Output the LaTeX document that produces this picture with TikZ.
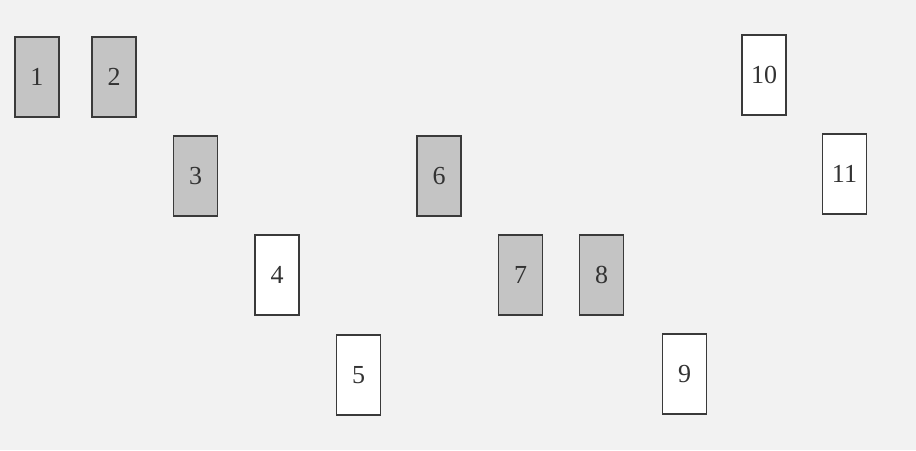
\documentclass[tikz,border=0pt]{standalone}
\usepackage{fontspec}
\setmainfont{Liberation Serif}
\definecolor{bg}{HTML}{F2F2F2}
\definecolor{cardgrey}{HTML}{C4C4C4}
\definecolor{edge}{HTML}{3A3A3A}
\tikzset{
  card/.style={draw=edge, line width=1.5pt, minimum width=44pt, minimum height=80pt, inner sep=0pt, font=\fontsize{26}{26}\selectfont, text=black!80},
  dark/.style={card, fill=cardgrey},
  light/.style={card, fill=white},
}
\begin{document}
\begin{tikzpicture}[x=1pt,y=-1pt]
\fill[bg] (0,0) rectangle (916,450);
\useasboundingbox (0,0) rectangle (916,450);
\node[dark]  (c1)  at (37,77)   {1};
\node[dark]  (c2)  at (114,77)  {2};
\node[dark]  (c3)  at (195.5,176) {3};
\node[light] (c4)  at (277,275) {4};
\node[light] (c5)  at (358.5,375) {5};
\node[dark]  (c6)  at (439,176) {6};
\node[dark]  (c7)  at (520.5,275) {7};
\node[dark]  (c8)  at (601.5,275) {8};
\node[light] (c9)  at (684.5,374) {9};
\node[light] (c10) at (764,75)  {10};
\node[light] (c11) at (844.5,174) {11};
\end{tikzpicture}
\end{document}
